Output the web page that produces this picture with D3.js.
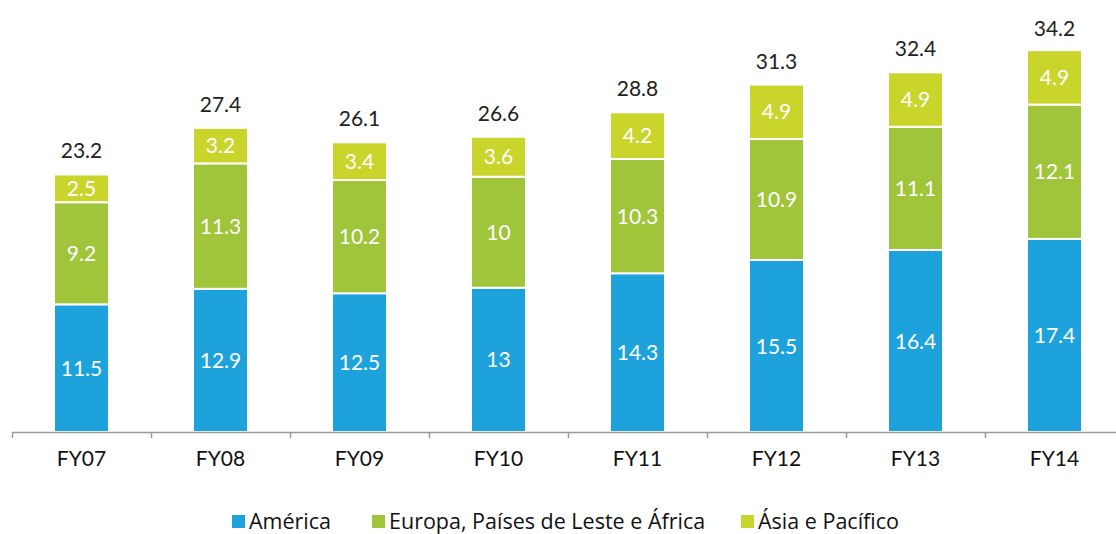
<!DOCTYPE html>
<html>
<head>
<meta charset="utf-8">
<script src="https://cdn.jsdelivr.net/npm/d3@7"></script>
<style>
  body { margin: 0; background: #fff; }
  svg { display: block; font-family: Lato, "Open Sans", sans-serif; }
</style>
</head>
<body>
<div id="chart"></div>
<script>
// categories and series
const years = ["FY07", "FY08", "FY09", "FY10", "FY11", "FY12", "FY13", "FY14"];
const america = [11.5, 12.9, 12.5, 13, 14.3, 15.5, 16.4, 17.4];
const europa = [9.2, 11.3, 10.2, 10, 10.3, 10.9, 11.1, 12.1];
const asia = [2.5, 3.2, 3.4, 3.6, 4.2, 4.9, 4.9, 4.9];
const totals = [23.2, 27.4, 26.1, 26.6, 28.8, 31.3, 32.4, 34.2];
const seriesNames = ["América", "Europa, Países de Leste e África", "Ásia e Pacífico"];
const colors = ["#1ea2dc", "#a0c43a", "#c9d52b"];

const W = 1116, H = 534;
const svg = d3.select("#chart").append("svg")
    .attr("width", W).attr("height", H);

const x0 = 12, band = 139;
const xScale = d3.scaleBand()
    .domain(years)
    .range([x0, x0 + band * years.length])
    .paddingInner(84 / 139)
    .paddingOuter(42 / 139);

const yScale = d3.scaleLinear()
    .domain([0, 40])
    .range([432, -12]);

const table = years.map((y, i) => ({year: y, a: america[i], e: europa[i], s: asia[i]}));
const stack = d3.stack().keys(["a", "e", "s"])(table);

const layers = svg.append("g").selectAll("g")
    .data(stack)
    .join("g")
    .attr("fill", (d, i) => colors[i]);

layers.selectAll("rect")
    .data(d => d)
    .join("rect")
    .attr("x", d => xScale(d.data.year))
    .attr("width", xScale.bandwidth())
    .attr("y", d => yScale(d[1]))
    .attr("height", d => yScale(d[0]) - yScale(d[1]))
    .attr("stroke", "#fff")
    .attr("stroke-width", 2);

// segment labels
layers.selectAll("text")
    .data(d => d)
    .join("text")
    .attr("x", d => xScale(d.data.year) + xScale.bandwidth() / 2)
    .attr("y", d => (yScale(d[0]) + yScale(d[1])) / 2)
    .attr("dy", "0.36em")
    .attr("text-anchor", "middle")
    .attr("fill", "#fff")
    .attr("font-size", 21)
    .text(d => d3.format("~")(+(d[1] - d[0]).toFixed(1)));

// totals
svg.append("g").selectAll("text")
    .data(totals)
    .join("text")
    .attr("x", (d, i) => xScale(years[i]) + xScale.bandwidth() / 2)
    .attr("y", d => yScale(d) - 16)
    .attr("text-anchor", "middle")
    .attr("fill", "#222")
    .attr("font-size", 21)
    .text(d => d);

// x axis
const axis = svg.append("g");
axis.append("line")
    .attr("x1", x0).attr("x2", W)
    .attr("y1", 432.5).attr("y2", 432.5)
    .attr("stroke", "#9a9a9a").attr("stroke-width", 1.5);
axis.selectAll(".tick")
    .data(d3.range(years.length + 1))
    .join("line")
    .attr("x1", i => x0 + i * band + 0.5).attr("x2", i => x0 + i * band + 0.5)
    .attr("y1", 432).attr("y2", 438)
    .attr("stroke", "#9a9a9a").attr("stroke-width", 1.5);
axis.selectAll("text")
    .data(years)
    .join("text")
    .attr("x", d => xScale(d) + xScale.bandwidth() / 2)
    .attr("y", 466)
    .attr("text-anchor", "middle")
    .attr("fill", "#111")
    .attr("font-size", 21)
    .text(d => d);

// legend
const legendX = [232, 372, 741];
const legend = svg.append("g").selectAll("g")
    .data(seriesNames)
    .join("g")
    .attr("transform", (d, i) => `translate(${legendX[i]},521)`);
legend.append("rect")
    .attr("x", 0).attr("y", -6)
    .attr("width", 13).attr("height", 13)
    .attr("fill", (d, i) => colors[i]);
legend.append("text")
    .attr("x", 17).attr("y", 0)
    .attr("dy", "0.36em")
    .attr("fill", "#111")
    .attr("font-family", "'Open Sans', sans-serif")
    .attr("font-size", 21.5)
    .text(d => d);
</script>
</body>
</html>
